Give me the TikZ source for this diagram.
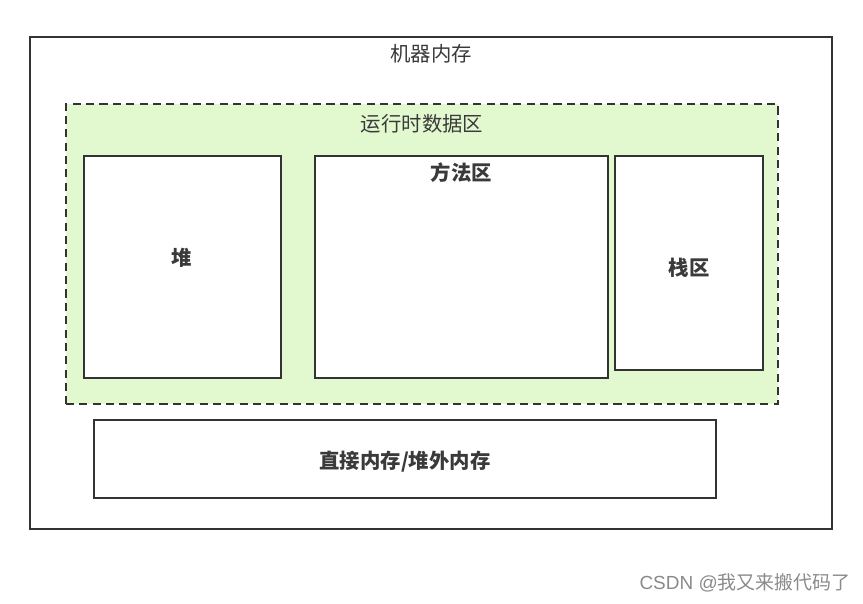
\documentclass[tikz,border=0pt]{standalone}
\usepackage{fontspec}
\setmainfont{Liberation Sans}
\newfontfamily\cjk{Noto Sans CJK SC}
\usetikzlibrary{positioning,fit}

\definecolor{linegray}{HTML}{333333}
\definecolor{textgray}{HTML}{3A3A3A}
\definecolor{rtgreen}{HTML}{E2F9D0}
\definecolor{markgray}{HTML}{8A8A8A}

\tikzset{
  membox/.style={draw=linegray, line width=0.9pt, inner sep=0pt, fill=white},
  runtimebox/.style={draw=linegray, line width=0.9pt, dash pattern=on 4.6pt off 3pt, fill=rtgreen, inner sep=0pt},
  plainlabel/.style={font=\cjk\fontsize{11.6pt}{14pt}\selectfont, text=textgray, inner sep=0pt},
  boldlabel/.style={font=\cjk\bfseries\fontsize{11.6pt}{14pt}\selectfont, text=textgray, inner sep=0pt},
}

\begin{document}
\begin{tikzpicture}[x=0.02cm, y=-0.02cm]
  \useasboundingbox (0,0) rectangle (863,604);
  % outer machine memory
  \node[membox, fit={(30,37) (832,529)}] (machine) {};
  \node[plainlabel, below=4.5pt of machine.north] (machinelbl) {机器内存};
  % runtime data area
  \node[runtimebox, fit={(66,104) (778,404)}] (runtime) {};
  \node[plainlabel, below=6pt of runtime.north] (runtimelbl) {运行时数据区};
  \node[membox, fit={(84,156) (281,378)}] (heap) {};
  \node[boldlabel] (heaplbl) at (182,258) {堆};
  \node[membox, fit={(315,156) (608,378)}] (method) {};
  \node[boldlabel, below=4pt of method.north] (methodlbl) {方法区};
  \node[membox, fit={(615,156) (763,370)}] (stack) {};
  \node[boldlabel] (stacklbl) at (689,268) {栈区};
  % direct memory
  \node[membox, fit={(94,420) (716,498)}] (direct) {};
  \node[boldlabel] (directlbl) at (405,462) {直接内存/堆外内存};
  % watermark
  \node[font=\fontsize{10.8pt}{13pt}\selectfont, text=markgray, inner sep=0pt, anchor=east] (mark) at (851,583) {CSDN @{\cjk 我又来搬代码了}};
\end{tikzpicture}
\end{document}
